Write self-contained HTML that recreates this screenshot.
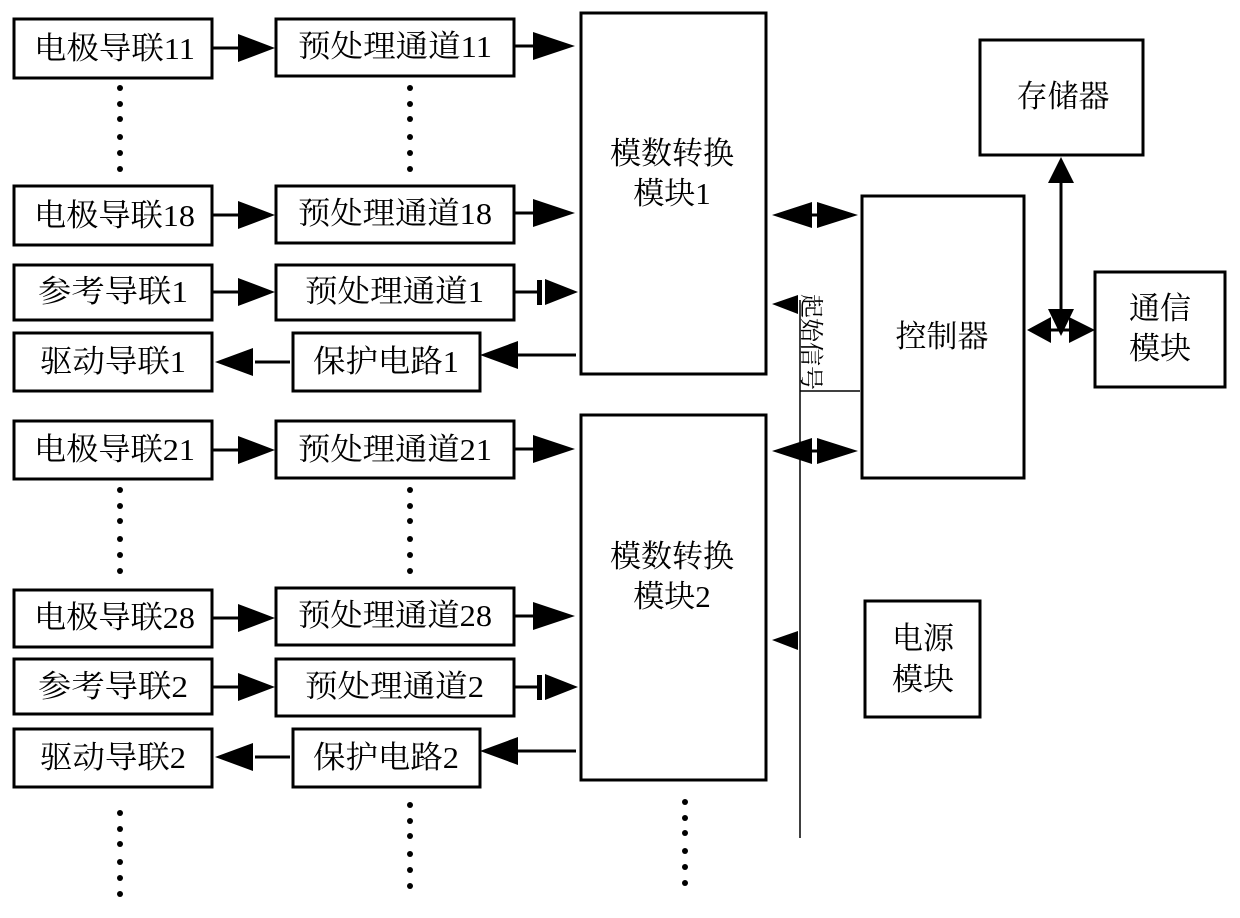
<!DOCTYPE html>
<html><head><meta charset="utf-8"><style>
html,body{margin:0;padding:0;background:#fff;}
text{font-family:"Liberation Serif","Noto Serif CJK SC",serif;font-size:31px;fill:#000;}
</style></head><body>
<svg width="1240" height="913" viewBox="0 0 1240 913" xmlns="http://www.w3.org/2000/svg">
<defs>
<g id="dotsV"><circle cx="0" cy="0" r="3"/><circle cx="0" cy="16" r="3"/><circle cx="0" cy="31" r="3"/><circle cx="0" cy="49" r="3"/><circle cx="0" cy="65" r="3"/><circle cx="0" cy="81" r="3"/></g>
</defs>
<g fill="none" stroke="#000" stroke-width="3">
<rect x="14" y="19" width="198" height="59"/>
<rect x="14" y="186" width="198" height="59"/>
<rect x="14" y="265" width="198" height="55"/>
<rect x="14" y="333" width="198" height="58"/>
<rect x="14" y="421" width="198" height="58"/>
<rect x="14" y="590" width="198" height="57"/>
<rect x="14" y="659" width="198" height="55"/>
<rect x="14" y="729" width="198" height="58"/>
<rect x="276" y="19" width="238" height="57"/>
<rect x="276" y="186" width="238" height="57"/>
<rect x="276" y="265" width="238" height="55"/>
<rect x="293" y="333" width="187" height="58"/>
<rect x="276" y="421" width="238" height="57"/>
<rect x="276" y="588" width="238" height="57"/>
<rect x="276" y="659" width="238" height="57"/>
<rect x="293" y="729" width="187" height="58"/>
<rect x="581" y="13" width="185" height="361"/>
<rect x="581" y="415" width="185" height="365"/>
<rect x="862" y="196" width="162" height="282"/>
<rect x="980" y="40" width="163" height="115"/>
<rect x="1095" y="272" width="130" height="115"/>
<rect x="865" y="601" width="115" height="116"/>
<path d="M212 48H245 M212 215H245 M212 292H245 M212 450H245 M212 618H245 M212 687H245"/>
<path d="M514 46H540 M514 213H540 M514 292H540 M514 449H540 M514 616H540 M514 687H540"/>
<path d="M255 362H290 M515 355H576 M255 757H290 M515 751H576"/>
<path d="M805 215H820 M805 451H820 M1061 160V325 M1040 330H1080"/>
</g>
<g stroke="#000" stroke-width="1.5" fill="none">
<path d="M800 300V838 M800 391H860"/>
</g>
<g fill="#000">
<polygon points="238,34 275,48 238,62"/><polygon points="238,201 275,215 238,229"/><polygon points="238,278 275,292 238,306"/>
<polygon points="238,436 275,450 238,464"/><polygon points="238,604 275,618 238,632"/><polygon points="238,673 275,687 238,701"/>
<polygon points="533,32 575,46 533,60"/><polygon points="533,199 575,213 533,227"/><polygon points="545,279 578,292 545,305"/><rect x="537" y="280" width="5" height="25"/>
<polygon points="533,435 575,449 533,463"/><polygon points="533,602 575,616 533,630"/><polygon points="545,674 578,687 545,700"/><rect x="537" y="675" width="5" height="25"/>
<polygon points="518,341 480,355 518,369"/><polygon points="253,348 215,362 253,376"/><rect x="250" y="349" width="2" height="26"/>
<polygon points="518,737 480,751 518,765"/><polygon points="253,743 215,757 253,771"/>
<polygon points="812,202 772,215 812,228"/><polygon points="817,202 858,215 817,228"/>
<polygon points="812,438 772,451 812,464"/><polygon points="817,438 858,451 817,464"/>
<polygon points="772,304 798,295 798,314"/><polygon points="772,640 798,631 798,650"/>
<polygon points="1061,157 1048,183 1074,183"/><polygon points="1061,336 1048,309 1074,309"/>
<polygon points="1027,330 1051,317 1051,343"/><polygon points="1095,330 1069,317 1069,343"/>
<use href="#dotsV" x="120" y="88"/><use href="#dotsV" x="410" y="88"/>
<use href="#dotsV" x="120" y="490"/><use href="#dotsV" x="410" y="490"/>
<use href="#dotsV" x="120" y="813"/><use href="#dotsV" x="410" y="805"/><use href="#dotsV" x="685" y="802"/>
</g>
<g lengthAdjust="spacingAndGlyphs">
<text x="34" y="59" textLength="161" lengthAdjust="spacingAndGlyphs">电极导联11</text>
<text x="34" y="226" textLength="161" lengthAdjust="spacingAndGlyphs">电极导联18</text>
<text x="38" y="302" textLength="150" lengthAdjust="spacingAndGlyphs">参考导联1</text>
<text x="40" y="372" textLength="146" lengthAdjust="spacingAndGlyphs">驱动导联1</text>
<text x="34" y="460" textLength="161" lengthAdjust="spacingAndGlyphs">电极导联21</text>
<text x="34" y="628" textLength="161" lengthAdjust="spacingAndGlyphs">电极导联28</text>
<text x="38" y="697" textLength="150" lengthAdjust="spacingAndGlyphs">参考导联2</text>
<text x="40" y="768" textLength="146" lengthAdjust="spacingAndGlyphs">驱动导联2</text>
<text x="298" y="57" textLength="194" lengthAdjust="spacingAndGlyphs">预处理通道11</text>
<text x="298" y="224" textLength="194" lengthAdjust="spacingAndGlyphs">预处理通道18</text>
<text x="305" y="302" textLength="179" lengthAdjust="spacingAndGlyphs">预处理通道1</text>
<text x="313" y="372" textLength="146" lengthAdjust="spacingAndGlyphs">保护电路1</text>
<text x="298" y="460" textLength="194" lengthAdjust="spacingAndGlyphs">预处理通道21</text>
<text x="298" y="626" textLength="194" lengthAdjust="spacingAndGlyphs">预处理通道28</text>
<text x="305" y="697" textLength="179" lengthAdjust="spacingAndGlyphs">预处理通道2</text>
<text x="313" y="768" textLength="146" lengthAdjust="spacingAndGlyphs">保护电路2</text>
</g>
<g text-anchor="middle" style="font-size:32px">
<text x="672" y="164">模数转换</text><text x="672" y="204">模块1</text>
<text x="672" y="567">模数转换</text><text x="672" y="607">模块2</text>
<text x="942" y="347">控制器</text>
<text x="1063" y="107">存储器</text>
<text x="1160" y="319">通信</text><text x="1160" y="359">模块</text>
<text x="923" y="649">电源</text><text x="923" y="690">模块</text>
</g>
<text transform="translate(803,294) rotate(90)" style="font-size:24px">起始信号</text>
</svg>
</body></html>
